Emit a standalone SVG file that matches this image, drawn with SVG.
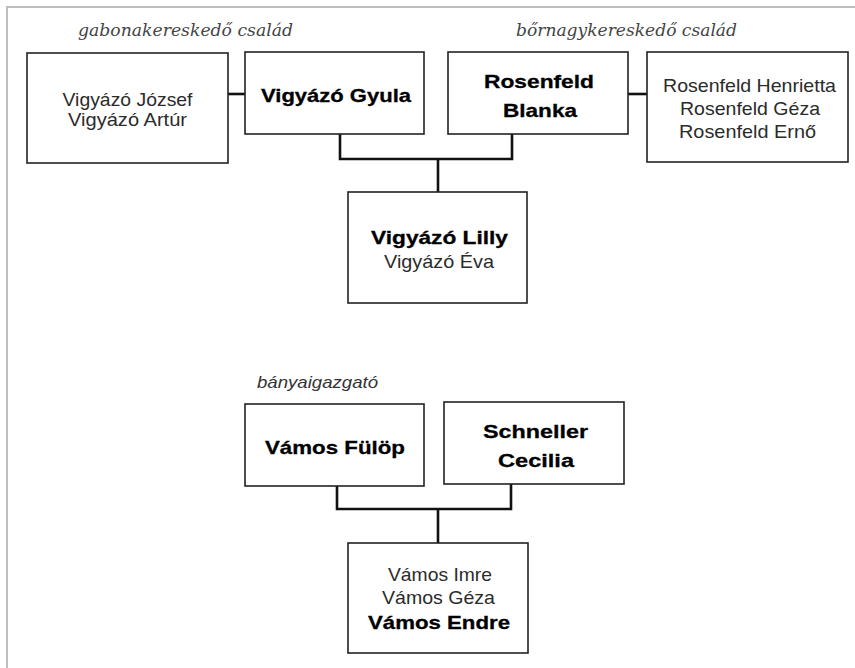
<svg xmlns="http://www.w3.org/2000/svg" width="855" height="668" viewBox="0 0 855 668">
<style>
.box{fill:#fff;stroke:#222;stroke-width:1.6}
.reg{font-family:"Liberation Sans",Arial,sans-serif;font-size:19px;fill:#2b2b2b;text-anchor:middle}
.bold{font-family:"Liberation Sans",Arial,sans-serif;font-size:19px;font-weight:bold;fill:#000;stroke:#000;stroke-width:0.3;text-anchor:middle}
.lab{font-family:"DejaVu Serif","Liberation Serif",serif;font-style:italic;font-size:17px;fill:#444}
.lab2{font-family:"Liberation Sans",Arial,sans-serif;font-style:italic;font-size:17px;fill:#333}
.con{fill:none;stroke:#111;stroke-width:2.6}
.frame{stroke:#bdbdbd;stroke-width:2;fill:none}
</style>
<rect width="855" height="668" fill="#fff"/>
<path class="frame" d="M7,668 V7 H855"/>
<g id="labels">
<text class="lab" x="78" y="36" textLength="215" lengthAdjust="spacingAndGlyphs">gabonakereskedő család</text>
<text class="lab" x="516" y="36" textLength="221" lengthAdjust="spacingAndGlyphs">bőrnagykereskedő család</text>
<text class="lab2" x="257" y="388" textLength="121" lengthAdjust="spacingAndGlyphs">bányaigazgató</text>
</g>
<g id="connectors">
<path class="con" d="M228,94 H245"/>
<path class="con" d="M628,94 H647"/>
<path class="con" d="M340,134 V159 H512 V134"/>
<path class="con" d="M438,159 V192"/>
<path class="con" d="M337,486 V509 H511 V484"/>
<path class="con" d="M438,509 V543"/>
</g>
<g id="n-jozsef">
<rect class="box" x="27" y="53" width="201" height="110"/>
<text class="reg" x="127.5" y="106" textLength="130" lengthAdjust="spacingAndGlyphs">Vigyázó József</text>
<text class="reg" x="127.5" y="126" textLength="119" lengthAdjust="spacingAndGlyphs">Vigyázó Artúr</text>
</g>
<g id="n-gyula">
<rect class="box" x="245" y="52" width="179" height="82"/>
<text class="bold" x="336" y="102" textLength="150" lengthAdjust="spacingAndGlyphs">Vigyázó Gyula</text>
</g>
<g id="n-blanka">
<rect class="box" x="448" y="52" width="180" height="82"/>
<text class="bold" x="539" y="88" textLength="110" lengthAdjust="spacingAndGlyphs">Rosenfeld</text>
<text class="bold" x="540" y="117" textLength="74" lengthAdjust="spacingAndGlyphs">Blanka</text>
</g>
<g id="n-henrietta">
<rect class="box" x="647" y="52" width="201" height="110"/>
<text class="reg" x="749.5" y="92" textLength="173" lengthAdjust="spacingAndGlyphs">Rosenfeld Henrietta</text>
<text class="reg" x="750" y="115" textLength="140" lengthAdjust="spacingAndGlyphs">Rosenfeld Géza</text>
<text class="reg" x="747.5" y="138" textLength="137" lengthAdjust="spacingAndGlyphs">Rosenfeld Ernő</text>
</g>
<g id="n-lilly">
<rect class="box" x="348" y="192" width="179" height="111"/>
<text class="bold" x="439.5" y="244" textLength="137" lengthAdjust="spacingAndGlyphs">Vigyázó Lilly</text>
<text class="reg" x="439" y="268" textLength="110" lengthAdjust="spacingAndGlyphs">Vigyázó Éva</text>
</g>
<g id="n-fulop">
<rect class="box" x="245" y="404" width="179" height="82"/>
<text class="bold" x="335" y="454" textLength="140" lengthAdjust="spacingAndGlyphs">Vámos Fülöp</text>
</g>
<g id="n-cecilia">
<rect class="box" x="444" y="402" width="180" height="82"/>
<text class="bold" x="535.5" y="438" textLength="105" lengthAdjust="spacingAndGlyphs">Schneller</text>
<text class="bold" x="536" y="467" textLength="76" lengthAdjust="spacingAndGlyphs">Cecilia</text>
</g>
<g id="n-endre">
<rect class="box" x="348" y="543" width="180" height="110"/>
<text class="reg" x="440" y="581" textLength="104" lengthAdjust="spacingAndGlyphs">Vámos Imre</text>
<text class="reg" x="438.5" y="604" textLength="113" lengthAdjust="spacingAndGlyphs">Vámos Géza</text>
<text class="bold" x="439" y="629" textLength="142" lengthAdjust="spacingAndGlyphs">Vámos Endre</text>
</g>
</svg>
